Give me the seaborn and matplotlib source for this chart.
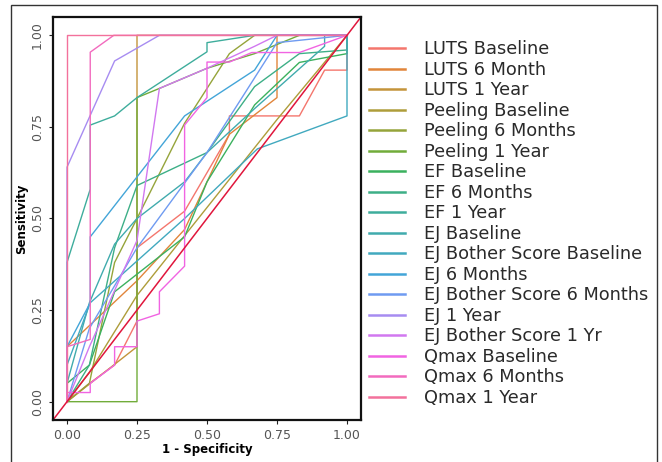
import pandas as pd
import seaborn as sns
import matplotlib.pyplot as plt
from matplotlib.patches import Rectangle

# ROC curve points (1 - specificity, sensitivity)
labels = ["LUTS Baseline", "LUTS 6 Month", "LUTS 1 Year", "Peeling Baseline",
          "Peeling 6 Months", "Peeling 1 Year", "EF Baseline", "EF 6 Months",
          "EF 1 Year", "EJ Baseline", "EJ Bother Score Baseline", "EJ 6 Months",
          "EJ Bother Score 6 Months", "EJ 1 Year", "EJ Bother Score 1 Yr",
          "Qmax Baseline", "Qmax 6 Months", "Qmax 1 Year"]

luts_base_x = [0, 0.08, 0.17, 0.25, 0.25, 0.42, 0.58, 0.58, 0.83, 0.92, 1.0, 1.0]
luts_base_y = [0, 0.05, 0.10, 0.22, 0.42, 0.52, 0.73, 0.78, 0.78, 0.905, 0.905, 1.0]
luts_6m_x = [0, 0, 0.25, 0.42, 0.58, 0.75, 0.75, 1.0]
luts_6m_y = [0, 0.15, 0.33, 0.47, 0.73, 0.83, 1.0, 1.0]
luts_1y_x = [0, 0.25, 0.25, 1.0]
luts_1y_y = [0, 0.15, 1.0, 1.0]
peel_base_x = [0, 0.08, 0.25, 0.5, 0.75, 1.0]
peel_base_y = [0, 0.08, 0.29, 0.53, 0.77, 1.0]
peel_6m_x = [0, 0.08, 0.17, 0.25, 0.42, 0.58, 0.67, 1.0]
peel_6m_y = [0, 0.05, 0.38, 0.5, 0.76, 0.95, 1.0, 1.0]
peel_1y_x = [0, 0.25, 0.25, 0.33, 0.5, 0.67, 0.83, 1.0]
peel_1y_y = [0, 0, 0.83, 0.855, 0.91, 0.95, 1.0, 1.0]
ef_base_x = [0, 0, 0.08, 0.17, 0.42, 0.5, 0.67, 0.83, 1.0, 1.0]
ef_base_y = [0, 0.05, 0.1, 0.3, 0.45, 0.6, 0.81, 0.926, 0.95, 1.0]
ef_6m_x = [0, 0.08, 0.17, 0.25, 0.5, 0.67, 0.83, 1.0, 1.0]
ef_6m_y = [0, 0.1, 0.42, 0.59, 0.68, 0.86, 0.95, 0.96, 1.0]
ef_1y_x = [0, 0, 0.083, 0.083, 0.17, 0.25, 0.5, 0.5, 0.67, 1.0]
ef_1y_y = [0, 0.38, 0.58, 0.755, 0.78, 0.83, 0.955, 0.98, 1.0, 1.0]
ej_base_x = [0, 0, 0.08, 0.17, 0.25, 0.42, 0.5, 0.67, 0.92, 0.92, 1.0]
ej_base_y = [0, 0.05, 0.27, 0.43, 0.5, 0.6, 0.68, 0.8, 0.97, 1.0, 1.0]
ej_bs_base_x = [0, 0, 0.083, 0.42, 0.68, 1.0, 1.0]
ej_bs_base_y = [0, 0.1, 0.27, 0.5, 0.69, 0.78, 1.0]
ej_6m_x = [0, 0, 0.083, 0.083, 0.42, 0.67, 0.75, 1.0]
ej_6m_y = [0, 0.15, 0.27, 0.45, 0.78, 0.905, 1.0, 1.0]
ej_bs_6m_x = [0, 0.08, 0.25, 0.5, 0.75, 1.0]
ej_bs_6m_y = [0, 0.2, 0.42, 0.68, 0.98, 1.0]
ej_1y_x = [0, 0, 0.17, 0.33, 1.0]
ej_1y_y = [0, 0.64, 0.93, 1.0, 1.0]
ej_bs_1y_x = [0, 0.08, 0.25, 0.33, 0.5, 0.67, 0.75, 1.0]
ej_bs_1y_y = [0, 0.15, 0.44, 0.855, 0.91, 0.97, 1.0, 1.0]
qmax_base_x = [0, 0, 0.083, 0.083, 0.17, 0.17, 0.25, 0.25, 0.33, 0.33, 0.42, 0.42,
               0.5, 0.5, 0.58, 0.66, 0.83, 1.0]
qmax_base_y = [0, 0.025, 0.025, 0.05, 0.1, 0.15, 0.15, 0.22, 0.24, 0.3, 0.37, 0.755,
               0.83, 0.927, 0.927, 0.953, 0.953, 1.0]
qmax_6m_x = [0, 0, 0.083, 0.083, 0.167, 1.0]
qmax_6m_y = [0, 0.15, 0.17, 0.954, 1.0, 1.0]
qmax_1y_x = [0, 0, 1.0]
qmax_1y_y = [0, 1.0, 1.0]

curves = [(luts_base_x, luts_base_y), (luts_6m_x, luts_6m_y), (luts_1y_x, luts_1y_y),
          (peel_base_x, peel_base_y), (peel_6m_x, peel_6m_y), (peel_1y_x, peel_1y_y),
          (ef_base_x, ef_base_y), (ef_6m_x, ef_6m_y), (ef_1y_x, ef_1y_y),
          (ej_base_x, ej_base_y), (ej_bs_base_x, ej_bs_base_y), (ej_6m_x, ej_6m_y),
          (ej_bs_6m_x, ej_bs_6m_y), (ej_1y_x, ej_1y_y), (ej_bs_1y_x, ej_bs_1y_y),
          (qmax_base_x, qmax_base_y), (qmax_6m_x, qmax_6m_y), (qmax_1y_x, qmax_1y_y)]

rows = []
for name, (xs, ys) in zip(labels, curves):
    for k, (a, b) in enumerate(zip(xs, ys)):
        rows.append({"fpr": a, "tpr": b, "curve": name, "step": k})
df = pd.DataFrame(rows)

pal = sns.husl_palette(18, h=15 / 360, s=0.86, l=0.65)

fig = plt.figure(figsize=(6.62, 4.62), dpi=100)
ax = fig.add_axes([53 / 662, 42 / 462, 308 / 662, 403 / 462])

sns.lineplot(data=df, x="fpr", y="tpr", hue="curve", hue_order=labels,
             palette=pal, sort=False, estimator=None, lw=1.0, ax=ax)
ax.axline((0, 0), slope=1, color="#e0163c", lw=1.1)

ax.set_xlim(-0.05, 1.05)
ax.set_ylim(-0.05, 1.05)
ticks = [0, 0.25, 0.5, 0.75, 1.0]
ax.set_xticks(ticks, ["0.00", "0.25", "0.50", "0.75", "1.00"])
ax.set_yticks(ticks, ["0.00", "0.25", "0.50", "0.75", "1.00"])
ax.tick_params(colors="#222222", labelcolor="#555555", labelsize=9, length=3)
for lab in ax.get_yticklabels():
    lab.set_rotation(90)
    lab.set_va("center")
for sp in ax.spines.values():
    sp.set_linewidth(1.6)
    sp.set_color("#111111")
ax.set_xlabel("1 - Specificity", fontsize=8.5, fontweight="bold", labelpad=1)
ax.set_ylabel("Sensitivity", fontsize=8.5, fontweight="bold", labelpad=2)

handles, names = ax.get_legend_handles_labels()
ax.get_legend().remove()
leg = fig.legend(handles, names, loc="center left", bbox_to_anchor=(369 / 662, 0.516),
                 frameon=False, fontsize=12.8, labelspacing=0.14, handlelength=2.0,
                 handletextpad=1.1, borderpad=0, borderaxespad=0)
for h in leg.legend_handles:
    h.set_linewidth(1.8)
for t in leg.get_texts():
    t.set_color("#2a2a2a")

# thin frame round the whole picture
fig.patches.append(Rectangle((11 / 662, -0.05), 646 / 662, (457 / 462) + 0.05,
                             transform=fig.transFigure, fill=False,
                             ec="#333333", lw=1.0))

plt.savefig("out.png", dpi=100)
